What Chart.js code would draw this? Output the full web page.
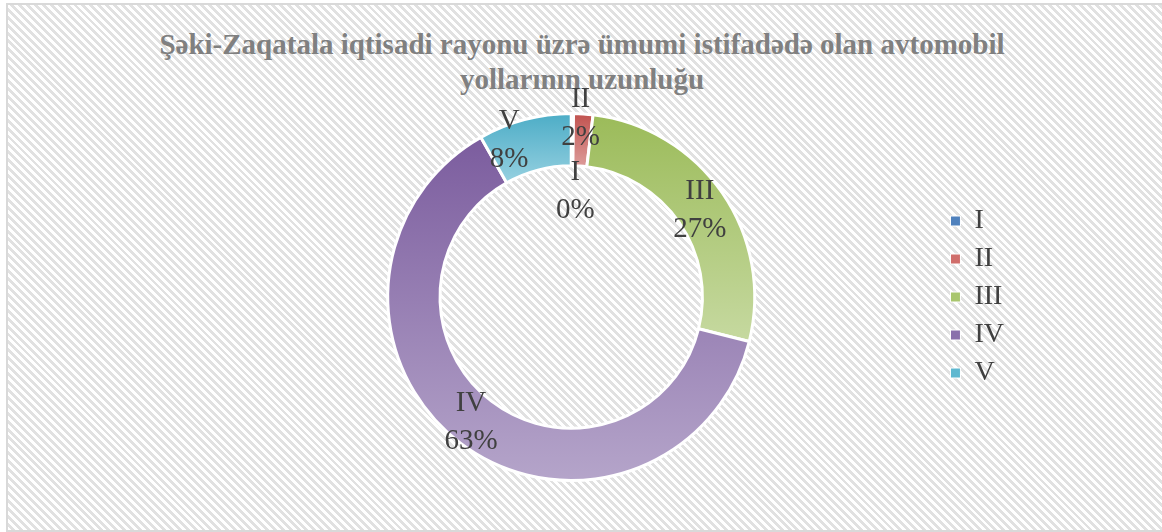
<!DOCTYPE html>
<html>
<head>
<meta charset="utf-8">
<script src="https://cdn.jsdelivr.net/npm/chart.js@4"></script>
<style>
  body { margin: 0; background: #fff; }
  #cerceve {
    position: absolute; left: 6px; top: 3px; width: 1170px; height: 525px;
    border: 2px solid #d9d9d9;
    background: repeating-linear-gradient(45deg, #ffffff 0px, #ffffff 2.8px, #e1e1e1 2.8px, #e1e1e1 5.6px);
  }
  #basliq {
    position: absolute; left: 0; top: 27px; width: 1164px; text-align: center;
    font: bold 29px "Liberation Serif", serif; line-height: 35px; color: #808080;
  }
  #qutu { position: absolute; left: 0; top: 0; width: 1162px; height: 532px; }
</style>
</head>
<body>
<div id="cerceve"></div>
<div id="basliq">Şəki-Zaqatala iqtisadi rayonu üzrə ümumi istifadədə olan avtomobil<br>yollarının uzunluğu</div>
<div id="qutu"><canvas id="myChart"></canvas></div>
<script>
// Kateqoriyalar və paylar (faizlə)
const kateqoriyalar = ['I', 'II', 'III', 'IV', 'V'];
const paylar = [0.2, 1.7, 27.0, 62.9, 8.2];

// Seqment rəngləri: yuxarı (tünd) və aşağı (açıq)
const tundRengler = ['#4f81bd', '#c0504d', '#9bbb59', '#7b5c9e', '#4bacc6'];
const aciqRengler = ['#95b3d7', '#dc9a98', '#c6d9a0', '#b5a5ca', '#95d0e0'];
const legendRengler = ['#4f81bd', '#d06e6b', '#a9c66e', '#8a70ac', '#5fb8d0'];

// Etiketlərin kiçik sürüşmələri
const etiketSurusme = [[3, 52], [-1, -22], [-1, 3], [-5, 0], [-22, -4]];

const kesik = 0.715;

// Hər seqment üçün şaquli gradient
function seqmentRengi(context) {
    const chart = context.chart;
    const area = chart.chartArea;
    const i = context.dataIndex;
    if (!area || i === undefined) return tundRengler[i || 0];

    const cem = paylar.reduce((a, b) => a + b, 0);
    let bas = 0;
    for (let j = 0; j < i; j++) bas += paylar[j];
    const a0 = -Math.PI / 2 + bas / cem * 2 * Math.PI;
    const a1 = a0 + paylar[i] / cem * 2 * Math.PI;

    const cy = (area.top + area.bottom) / 2;
    const r = Math.min(area.right - area.left, area.bottom - area.top) / 2;
    let yMin = Infinity, yMax = -Infinity;
    for (let k = 0; k <= 60; k++) {
        const a = a0 + (a1 - a0) * k / 60;
        [r, r * kesik].forEach(rr => {
            const y = cy + Math.sin(a) * rr;
            yMin = Math.min(yMin, y);
            yMax = Math.max(yMax, y);
        });
    }
    if (yMax - yMin < 1) yMax = yMin + 1;
    const g = chart.ctx.createLinearGradient(0, yMin, 0, yMax);
    g.addColorStop(0, tundRengler[i]);
    g.addColorStop(1, aciqRengler[i]);
    return g;
}

// Seqment üzərində ad və faiz
const seqmentEtiketleri = {
    id: 'seqmentEtiketleri',
    afterDatasetsDraw(chart) {
        const ctx = chart.ctx;
        const meta = chart.getDatasetMeta(0);
        const cem = paylar.reduce((a, b) => a + b, 0);
        ctx.save();
        ctx.font = '29px "Liberation Serif", serif';
        ctx.fillStyle = '#404040';
        ctx.textAlign = 'center';
        ctx.textBaseline = 'middle';
        meta.data.forEach((arc, i) => {
            const p = arc.tooltipPosition(true);
            const x = p.x + etiketSurusme[i][0];
            const y = p.y + etiketSurusme[i][1];
            ctx.fillText(kateqoriyalar[i], x, y - 19);
            ctx.fillText(Math.round(paylar[i] / cem * 100) + '%', x, y + 19);
        });
        ctx.restore();
    }
};

new Chart(document.getElementById('myChart'), {
    type: 'doughnut',
    data: {
        labels: kateqoriyalar,
        datasets: [{
            data: paylar,
            backgroundColor: seqmentRengi,
            borderColor: '#ffffff',
            borderWidth: 3
        }]
    },
    options: {
        responsive: true,
        maintainAspectRatio: false,
        animation: false,
        cutout: (kesik * 100) + '%',
        layout: { padding: { top: 112, bottom: 50, left: 202, right: 148 } },
        plugins: {
            tooltip: { enabled: false },
            title: { display: false },
            legend: {
                position: 'right',
                labels: {
                    boxWidth: 10,
                    boxHeight: 10,
                    padding: 10,
                    color: '#404040',
                    font: { family: '"Liberation Serif", serif', size: 28 },
                    generateLabels: () => kateqoriyalar.map((k, i) => ({
                        text: k,
                        fillStyle: legendRengler[i],
                        strokeStyle: '#ffffff',
                        lineWidth: 1,
                        fontColor: '#404040',
                        index: i
                    }))
                }
            }
        }
    },
    plugins: [seqmentEtiketleri]
});
</script>
</body>
</html>
